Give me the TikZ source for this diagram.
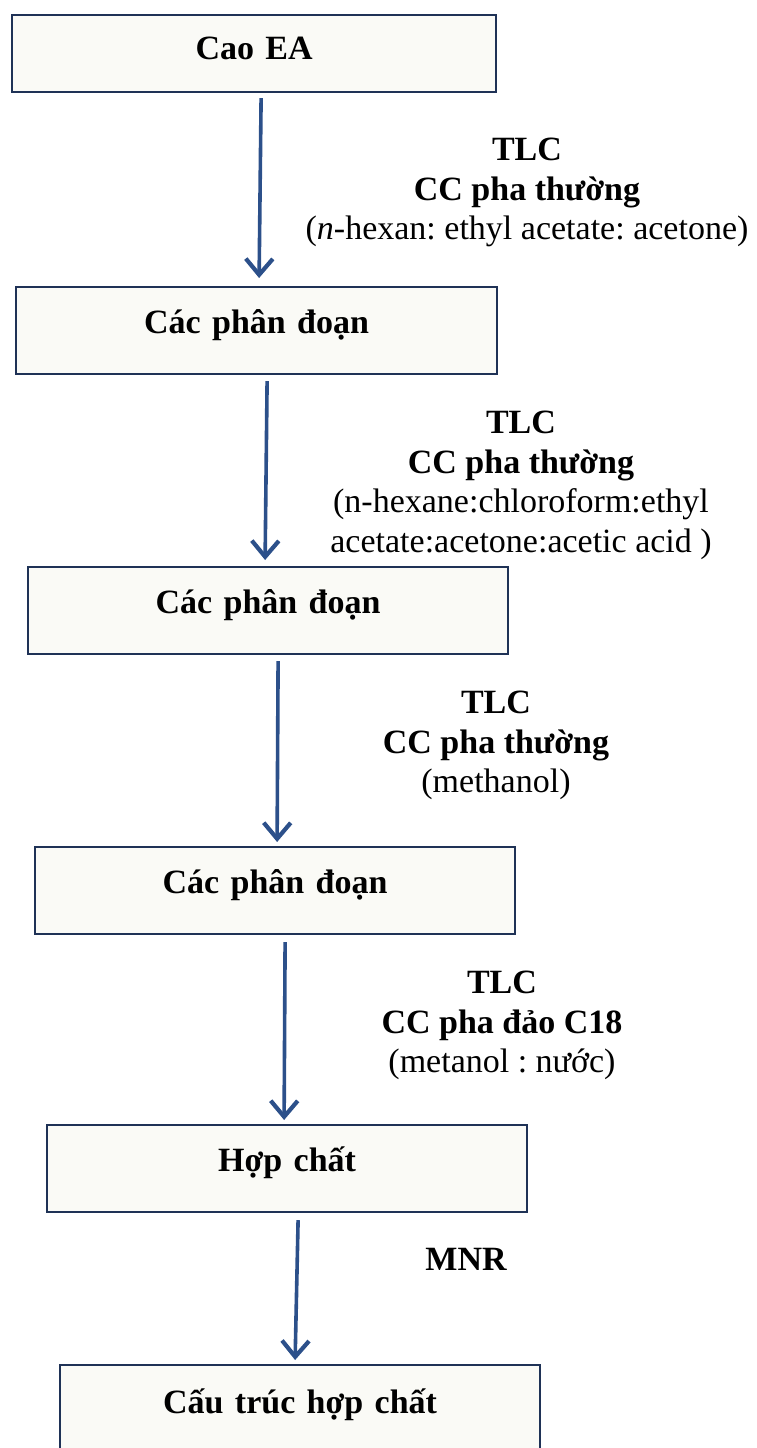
\documentclass[tikz,border=0pt]{standalone}
\usepackage{fontspec}
\setmainfont{Liberation Serif}
\usetikzlibrary{arrows.meta}
\definecolor{boxline}{RGB}{31,50,86}
\definecolor{boxfill}{RGB}{250,250,246}
\definecolor{arrowblue}{RGB}{44,80,138}
\tikzset{
  stagebox/.style={draw=boxline, line width=2.2pt, fill=boxfill, anchor=north west,
    minimum width=480pt, text width=480pt, align=center, inner xsep=0pt, inner ysep=0pt,
    text height=46pt, text depth=41pt, font=\fontsize{34}{40}\selectfont\bfseries},
  flowarrow/.style={draw=arrowblue, line width=3.6pt,
    -{Straight Barb[length=16pt, width=27pt, line width=4.2pt]}},
  steplabel/.style={align=center, anchor=north, inner sep=0pt,
    font=\fontsize{34}{39.5}\selectfont}
}
\begin{document}
\frenchspacing
\begin{tikzpicture}[x=1pt,y=-1pt]
\path[use as bounding box, clip] (0,0) rectangle (757,1448);
\node[stagebox, minimum width=484pt, text width=484pt, text height=44pt, text depth=33pt] (b1) at (11,14) {Cao EA};
\node[stagebox, minimum width=481pt, text width=481pt] (b2) at (15,286) {Các phân đoạn};
\node[stagebox] (b3) at (27,566) {Các phân đoạn};
\node[stagebox] (b4) at (34,846) {Các phân đoạn};
\node[stagebox] (b5) at (46,1124) {Hợp chất};
\node[stagebox, text height=48pt] (b6) at (59,1364) {Cấu trúc hợp chất};

\draw[flowarrow] ([xshift=7pt,yshift=-5pt]b1.south) -- ([xshift=2.5pt,yshift=8pt]b2.north);
\draw[flowarrow] ([xshift=10.5pt,yshift=-6pt]b2.south) -- ([xshift=-3pt,yshift=6pt]b3.north);
\draw[flowarrow] ([xshift=10pt,yshift=-6pt]b3.south) -- ([xshift=2pt,yshift=4pt]b4.north);
\draw[flowarrow] ([xshift=10pt,yshift=-7pt]b4.south) -- ([xshift=-3pt,yshift=4pt]b5.north);
\draw[flowarrow] ([xshift=11pt,yshift=-7pt]b5.south) -- ([xshift=-5pt,yshift=4pt]b6.north);

\node[steplabel] (l1) at (527,138) {\textbf{TLC}\\ \textbf{CC pha thường}\\ (\textit{n}-hexan: ethyl acetate: acetone)};
\node[steplabel] (l2) at (521,411) {\textbf{TLC}\\ \textbf{CC pha thường}\\ (n-hexane:chloroform:ethyl\\ acetate:acetone:acetic acid )};
\node[steplabel] (l3) at (496,691) {\textbf{TLC}\\ \textbf{CC pha thường}\\ (methanol)};
\node[steplabel] (l4) at (502,971) {\textbf{TLC}\\ \textbf{CC pha đảo C18}\\ (metanol : nước)};
\node[steplabel, font=\fontsize{34}{39.5}\selectfont\bfseries] (l5) at (466,1248) {MNR};
\end{tikzpicture}
\end{document}
